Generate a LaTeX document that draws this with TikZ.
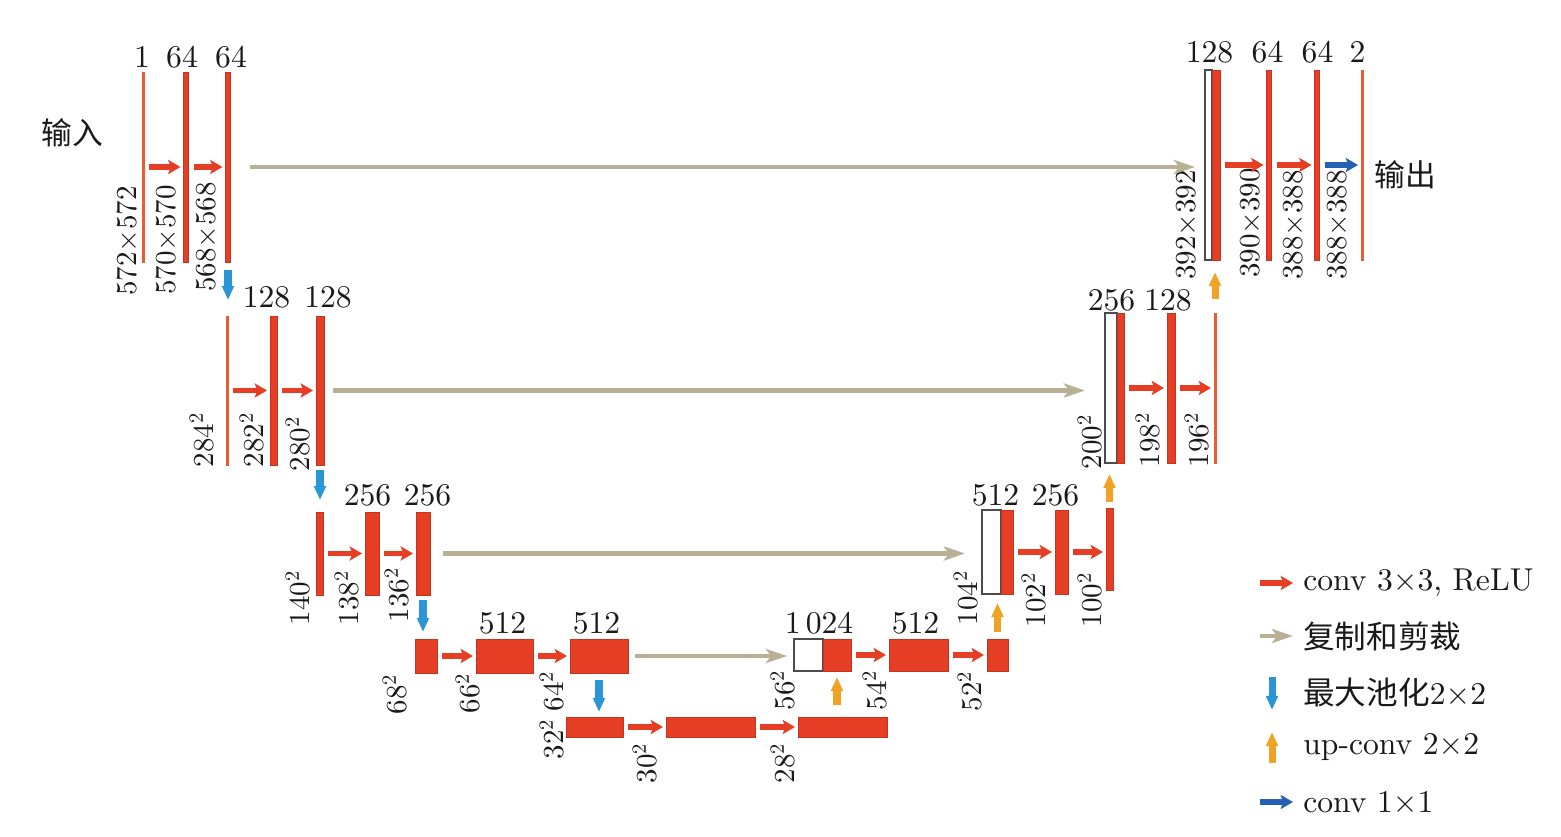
\documentclass[tikz,border=0pt]{standalone}
\usepackage{fontspec}
\setmainfont{lmroman10-regular}[Extension=.otf]
\newfontfamily\cjk{Noto Sans CJK SC}
\usepackage{xcolor}
\usepackage{tikz}
\usetikzlibrary{positioning,arrows.meta}
\definecolor{unred}{RGB}{229,62,36}
\definecolor{thinred}{RGB}{236,92,52}
\definecolor{tan}{RGB}{186,176,150}
\definecolor{poolblue}{RGB}{42,150,215}
\definecolor{uporange}{RGB}{240,162,36}
\definecolor{onexblue}{RGB}{36,96,180}
\definecolor{txt}{RGB}{25,25,25}
\tikzset{
  bar/.style={fill=unred,draw=unred!85!black,line width=0.2pt,inner sep=0pt,outer sep=0pt},
  thinbar/.style={bar,fill=thinred,draw=thinred},
  cpybox/.style={fill=white,draw=gray!60!black,line width=0.6pt,inner sep=0pt,outer sep=0pt},
  num/.style={font=\fontsize{18}{21}\selectfont,inner sep=0pt,text=txt},
  sz/.style={font=\fontsize{16.5}{19}\selectfont,inner sep=0pt,rotate=90,text=txt},
  lab/.style={font=\fontsize{18}{21}\selectfont,inner sep=0pt,text=txt,anchor=west},
  conv/.style={draw=unred,line width=3pt,-{Stealth[length=7pt,width=8pt,inset=1.5pt]},shorten <=0.1cm,shorten >=0.06cm},
  onex/.style={conv,draw=onexblue},
  copyarr/.style={draw=tan,line width=2.8pt,-{Stealth[length=12pt,width=8pt,inset=3pt]}},
  pool/.style={draw=poolblue,line width=4pt,-{Triangle[length=8pt,width=6.5pt]}},
  upc/.style={draw=uporange,line width=4pt,-{Triangle[length=8pt,width=6.5pt]}},
}
\begin{document}
\begin{tikzpicture}[x=0.02cm,y=-0.02cm]
  \useasboundingbox (0,0) rectangle (1561,837);
  % contracting path
  \node[thinbar,minimum width=0.04cm,minimum height=3.8cm] (b11) at (143,167) {};
  \node[bar,minimum width=0.1cm,minimum height=3.8cm] (b12) at (186,167) {};
  \node[bar,minimum width=0.1cm,minimum height=3.8cm] (b13) at (228,167) {};
  \node[thinbar,minimum width=0.04cm,minimum height=2.98cm] (b21) at (227,390.5) {};
  \node[bar,minimum width=0.14cm,minimum height=2.98cm] (b22) at (273.5,390.5) {};
  \node[bar,minimum width=0.16cm,minimum height=2.98cm] (b23) at (320,390.5) {};
  \node[bar,minimum width=0.14cm,minimum height=1.66cm] (b31) at (319.5,553.5) {};
  \node[bar,minimum width=0.28cm,minimum height=1.66cm] (b32) at (372,553.5) {};
  \node[bar,minimum width=0.28cm,minimum height=1.66cm] (b33) at (423,553.5) {};
  \node[bar,minimum width=0.44cm,minimum height=0.68cm] (b41) at (426,656) {};
  \node[bar,minimum width=1.14cm,minimum height=0.68cm] (b42) at (504.5,656) {};
  \node[bar,minimum width=1.16cm,minimum height=0.68cm] (b43) at (599,656) {};
  \node[bar,minimum width=1.14cm,minimum height=0.4cm] (b51) at (594.5,727) {};
  \node[bar,minimum width=1.78cm,minimum height=0.4cm] (b52) at (710.5,727) {};
  \node[bar,minimum width=1.78cm,minimum height=0.4cm] (b53) at (842.5,727) {};
  % expanding path
  \node[cpybox,minimum width=0.58cm,minimum height=0.64cm] (w44) at (808.5,655) {};
  \node[bar,minimum width=0.56cm,minimum height=0.64cm] (b44) at (837,655) {};
  \node[bar,minimum width=1.18cm,minimum height=0.64cm] (b45) at (918.5,655) {};
  \node[bar,minimum width=0.42cm,minimum height=0.64cm] (b46) at (997.5,655) {};
  \node[cpybox,minimum width=0.38cm,minimum height=1.68cm] (w34) at (991.5,552) {};
  \node[bar,minimum width=0.24cm,minimum height=1.68cm] (b34) at (1007,552) {};
  \node[bar,minimum width=0.26cm,minimum height=1.68cm] (b35) at (1061.5,552) {};
  \node[bar,minimum width=0.14cm,minimum height=1.64cm] (b36) at (1109.5,549) {};
  \node[cpybox,minimum width=0.24cm,minimum height=3.0cm] (w24) at (1111,388) {};
  \node[bar,minimum width=0.14cm,minimum height=3.0cm] (b24) at (1120.5,388) {};
  \node[bar,minimum width=0.16cm,minimum height=3.0cm] (b25) at (1171,388) {};
  \node[thinbar,minimum width=0.04cm,minimum height=3.0cm] (b26) at (1215,388) {};
  \node[cpybox,minimum width=0.14cm,minimum height=3.8cm] (w14) at (1208.5,165) {};
  \node[bar,minimum width=0.16cm,minimum height=3.8cm] (b14) at (1216,165) {};
  \node[bar,minimum width=0.1cm,minimum height=3.8cm] (b15) at (1269,165) {};
  \node[bar,minimum width=0.1cm,minimum height=3.8cm] (b16) at (1317,165) {};
  \node[thinbar,minimum width=0.04cm,minimum height=3.8cm] (b17) at (1362,165) {};
  % channel numbers
  \node[num] (n11) at (142,57) {1};
  \node[num] (n12) at (182,57) {64};
  \node[num] (n13) at (231,57) {64};
  \node[num] (n22) at (266.5,297) {128};
  \node[num] (n23) at (328,297) {128};
  \node[num] (n32) at (367.5,495) {256};
  \node[num] (n33) at (427.5,495) {256};
  \node[num] (n42) at (502.5,623) {512};
  \node[num] (n43) at (596.5,623) {512};
  \node[num] (n44) at (819,623) {1\,024};
  \node[num] (n45) at (915.5,623) {512};
  \node[num] (n34) at (995.5,495) {512};
  \node[num] (n35) at (1055.5,495) {256};
  \node[num] (n24) at (1111.5,300) {256};
  \node[num] (n25) at (1168,300) {128};
  \node[num] (n14) at (1209.5,52) {128};
  \node[num] (n15) at (1267.5,52) {64};
  \node[num] (n16) at (1317.5,52) {64};
  \node[num] (n17) at (1357.5,52) {2};
  % feature map sizes
  \node[sz] (s11) at (127,241) {572×572};
  \node[sz] (s12) at (166,240) {570×570};
  \node[sz] (s13) at (206,237) {568×568};
  \node[sz] (s21) at (202,440) {284\textsuperscript{2}};
  \node[sz] (s22) at (252,440) {282\textsuperscript{2}};
  \node[sz] (s23) at (298,444) {280\textsuperscript{2}};
  \node[sz] (s31) at (298,598) {140\textsuperscript{2}};
  \node[sz] (s32) at (347,598) {138\textsuperscript{2}};
  \node[sz] (s33) at (397,595) {136\textsuperscript{2}};
  \node[sz] (s41) at (395,694) {68\textsuperscript{2}};
  \node[sz] (s42) at (468,693) {66\textsuperscript{2}};
  \node[sz] (s43) at (552,691) {64\textsuperscript{2}};
  \node[sz] (s51) at (552,739) {32\textsuperscript{2}};
  \node[sz] (s52) at (645,763) {30\textsuperscript{2}};
  \node[sz] (s53) at (783,763) {28\textsuperscript{2}};
  \node[sz] (s44) at (783,690) {56\textsuperscript{2}};
  \node[sz] (s45) at (875,690) {54\textsuperscript{2}};
  \node[sz] (s46) at (970,691) {52\textsuperscript{2}};
  \node[sz] (s34) at (966,598) {104\textsuperscript{2}};
  \node[sz] (s35) at (1034,600) {102\textsuperscript{2}};
  \node[sz] (s36) at (1090,600) {100\textsuperscript{2}};
  \node[sz] (s24) at (1090,442) {200\textsuperscript{2}};
  \node[sz] (s25) at (1148,440) {198\textsuperscript{2}};
  \node[sz] (s26) at (1197,440) {196\textsuperscript{2}};
  \node[sz] (s14) at (1186,225) {392×392};
  \node[sz] (s15) at (1250,223) {390×390};
  \node[sz] (s16) at (1293,225) {388×388};
  \node[sz] (s17) at (1337,225) {388×388};
  \node[num,font=\fontsize{17.5}{20}\cjk] (inp) at (72,133) {输入};
  \node[num,font=\fontsize{17.5}{20}\cjk] (outp) at (1405,175) {输出};
  % 3x3 convolutions
  \draw[conv] (b11) -- (b12);
  \draw[conv] (b12) -- (b13);
  \draw[conv] (b21) -- (b22);
  \draw[conv] (b22) -- (b23);
  \draw[conv] (b31) -- (b32);
  \draw[conv] (b32) -- (b33);
  \draw[conv] (b41) -- (b42);
  \draw[conv] (b42) -- (b43);
  \draw[conv] (b51) -- (b52);
  \draw[conv] (b52) -- (b53);
  \draw[conv] (b44) -- (b45);
  \draw[conv] (b45) -- (b46);
  \draw[conv] (b34) -- (b35);
  \draw[conv] (b35.east) -- (b35.east -| b36.west);
  \draw[conv] (b24) -- (b25);
  \draw[conv] (b25) -- (b26);
  \draw[conv] (b14) -- (b15);
  \draw[conv] (b15) -- (b16);
  \draw[onex] (b16) -- (b17);
  % copy and crop
  \draw[copyarr,shorten <=0.39cm,shorten >=0.2cm] (b13.east) -- (b13.east -| w14.west);
  \draw[copyarr,shorten <=0.18cm,shorten >=0.4cm] (b23.east) -- (b23.east -| w24.west);
  \draw[copyarr,shorten <=0.26cm,shorten >=0.34cm] (b33.east) -- (b33.east -| w34.west);
  \draw[copyarr,shorten <=0.14cm,shorten >=0.14cm] (b43.east) -- (b43.east -| w44.west);
  % max pooling
  \draw[pool,shorten <=0.16cm,shorten >=0.32cm] (b13.south) -- (b13.south |- b21.north);
  \draw[pool,shorten <=0.1cm,shorten >=0.24cm] (b23.south) -- (b23.south |- b31.north);
  \draw[pool,shorten <=0.1cm,shorten >=0.14cm] (b33.south) -- (b33.south |- b41.north);
  \draw[pool,shorten <=0.14cm,shorten >=0.1cm] (b43.south) -- (b43.south |- b51.north);
  % up-convolutions
  \draw[upc,shorten <=0.24cm,shorten >=0.12cm] (b44 |- b53.north) -- (b44.south);
  \draw[upc,shorten <=0.14cm,shorten >=0.18cm] (b46.north) -- (b46.north |- b34.south);
  \draw[upc,shorten <=0.12cm,shorten >=0.22cm] (b36.north) -- (b36.north |- b24.south);
  \draw[upc,shorten <=0.28cm,shorten >=0.24cm] (b26.north) -- (b26.north |- b14.south);
  % legend
  \node[lab] (t1) at (1303,583) {conv 3×3, ReLU};
  \node[lab] (t2) at (1303,636) {\cjk 复制和剪裁};
  \node[lab] (t3) at (1303,692) {{\cjk 最大池化}2×2};
  \node[lab] (t4) at (1303,747) {up-conv 2×2};
  \node[lab] (t5) at (1303,802) {conv 1×1};
  \coordinate (k1) at (1260,583);
  \coordinate (k2) at (1260,636);
  \coordinate (k3) at (1272,677);
  \coordinate (k3e) at (1272,710);
  \coordinate (k4) at (1272,763);
  \coordinate (k4e) at (1272,732);
  \coordinate (k5) at (1260,802);
  \draw[conv,shorten <=0pt,shorten >=0.2cm] (k1) -- (t1.west);
  \draw[copyarr,shorten >=0.2cm] (k2) -- (t2.west);
  \draw[pool] (k3) -- (k3e);
  \draw[upc] (k4) -- (k4e);
  \draw[onex,shorten <=0pt,shorten >=0.2cm] (k5) -- (t5.west);
\end{tikzpicture}
\end{document}
